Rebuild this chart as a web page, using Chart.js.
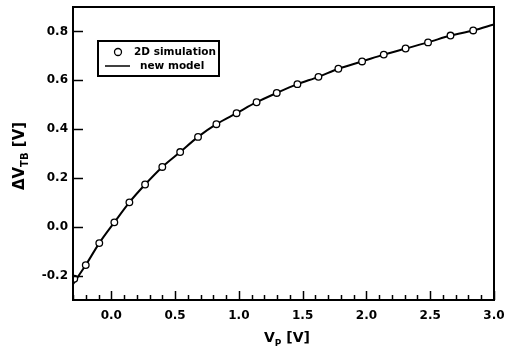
<!DOCTYPE html>
<html><head><meta charset="utf-8">
<script src="https://cdn.jsdelivr.net/npm/chart.js@4"></script>
<style>html,body{margin:0;padding:0;background:#fff}#wrap{width:511px;height:347px}</style>
</head><body><div id="wrap"><canvas id="c" width="511" height="347"></canvas></div>
<script>
// Data
const simX = [-0.29, -0.20, -0.094, 0.024, 0.142, 0.265, 0.40, 0.54, 0.68, 0.824, 0.982, 1.139, 1.297, 1.459, 1.624, 1.78, 1.966, 2.136, 2.307, 2.483, 2.659, 2.837];
const simY = [-0.213, -0.157, -0.067, 0.018, 0.100, 0.173, 0.245, 0.306, 0.368, 0.420, 0.465, 0.510, 0.548, 0.584, 0.614, 0.647, 0.677, 0.705, 0.730, 0.755, 0.783, 0.804];
const modelX = [-0.30, -0.20, -0.094, 0.024, 0.142, 0.265, 0.40, 0.54, 0.68, 0.824, 0.982, 1.139, 1.297, 1.459, 1.624, 1.78, 1.966, 2.136, 2.307, 2.483, 2.659, 2.837, 3.0];
const modelY = [-0.235, -0.157, -0.067, 0.018, 0.100, 0.173, 0.245, 0.306, 0.368, 0.420, 0.465, 0.510, 0.548, 0.584, 0.614, 0.647, 0.677, 0.705, 0.730, 0.755, 0.783, 0.804, 0.829];
const seriesNames = ['2D simulation', 'new model'];
const xTickLabels = ['0.0', '0.5', '1.0', '1.5', '2.0', '2.5', '3.0'];
const yTickLabels = ['-0.2', '0.0', '0.2', '0.4', '0.6', '0.8'];
const xMinorStep = 0.1;
const xTitle = ['V', 'P', ' [V]'];
const yTitle = ['\u0394V', 'TB', ' [V]'];

const FONT = '"DejaVu Sans", Verdana, sans-serif';

function fmt(v){ if (Math.abs(v) < 1e-9) v = 0; return v.toFixed(1); }

const decor = {
  id: 'decor',
  afterDraw(chart) {
    const ctx = chart.ctx, a = chart.chartArea;
    const xs = chart.scales.x, ys = chart.scales.y;
    ctx.save();
    ctx.strokeStyle = '#000';
    // frame
    ctx.lineWidth = 2;
    ctx.strokeRect(a.left, a.top, a.right - a.left, a.bottom - a.top);
    // x ticks (inward)
    ctx.lineWidth = 1.5;
    const majX = xTickLabels.map(Number);
    const n = Math.round((xs.max - xs.min) / xMinorStep);
    for (let i = 0; i <= n; i++) {
      const v = xs.min + i * xMinorStep;
      const isMaj = majX.some(m => Math.abs(m - v) < 1e-6);
      const px = Math.round(xs.getPixelForValue(v)) + 0.5;
      ctx.beginPath();
      ctx.moveTo(px, a.bottom);
      ctx.lineTo(px, a.bottom - (isMaj ? 9 : 5));
      ctx.stroke();
    }
    // y ticks (inward)
    yTickLabels.map(Number).forEach(v => {
      const py = Math.round(ys.getPixelForValue(v)) + 0.5;
      ctx.beginPath();
      ctx.moveTo(a.left - 1, py);
      ctx.lineTo(a.left + 10, py);
      ctx.stroke();
    });
    // titles
    ctx.fillStyle = '#000';
    ctx.textBaseline = 'alphabetic';
    function drawTitle(parts, cx, by, size, subSize) {
      const big = 'bold ' + size + 'px ' + FONT, small = 'bold ' + subSize + 'px ' + FONT;
      ctx.font = big; const w0 = ctx.measureText(parts[0]).width;
      ctx.font = small; const w1 = ctx.measureText(parts[1]).width;
      ctx.font = big; const w2 = ctx.measureText(parts[2]).width;
      let x = cx - (w0 + w1 + w2) / 2;
      ctx.textAlign = 'left';
      ctx.font = big; ctx.fillText(parts[0], x, by); x += w0;
      ctx.font = small; ctx.fillText(parts[1], x, by + 4); x += w1;
      ctx.font = big; ctx.fillText(parts[2], x, by);
    }
    drawTitle(xTitle, 287, 342, 14, 9);
    ctx.save();
    ctx.translate(24, 156);
    ctx.rotate(-Math.PI / 2);
    drawTitle(yTitle, 0, 0, 15, 10);
    ctx.restore();
    // legend
    ctx.lineWidth = 2;
    ctx.strokeRect(98, 41, 121, 35);
    ctx.lineWidth = 1.3;
    ctx.beginPath(); ctx.arc(118, 52, 3.5, 0, Math.PI * 2);
    ctx.fillStyle = '#fff'; ctx.fill(); ctx.stroke();
    ctx.lineWidth = 1.5;
    ctx.beginPath(); ctx.moveTo(105, 66); ctx.lineTo(130, 66); ctx.stroke();
    ctx.fillStyle = '#000';
    ctx.font = 'bold 10.5px ' + FONT;
    ctx.textBaseline = 'middle';
    ctx.textAlign = 'left';
    ctx.fillText(chart.data.datasets[0].label, 134, 52);
    ctx.fillText(chart.data.datasets[1].label, 140, 66);
    ctx.restore();
  }
};

new Chart(document.getElementById('c'), {
  type: 'scatter',
  data: {
    datasets: [
      {
        label: seriesNames[0],
        data: simX.map((x, i) => ({x, y: simY[i]})),
        showLine: false,
        pointRadius: 3.3,
        pointBorderWidth: 1.3,
        pointBackgroundColor: '#fff',
        pointBorderColor: '#000'
      },
      {
        label: seriesNames[1],
        data: modelX.map((x, i) => ({x, y: modelY[i]})),
        showLine: true,
        borderColor: '#000',
        borderWidth: 2,
        pointRadius: 0,
        cubicInterpolationMode: 'monotone'
      }
    ]
  },
  options: {
    responsive: false,
    animation: false,
    devicePixelRatio: 1,
    layout: { padding: { top: 7, right: 17, left: 0, bottom: 0 } },
    plugins: { legend: { display: false }, tooltip: { enabled: false } },
    scales: {
      x: {
        type: 'linear', min: -0.3, max: 3.0,
        afterBuildTicks: s => { s.ticks = xTickLabels.map(t => ({value: Number(t)})); },
        afterFit: s => { s.height = 47; s.paddingLeft = 0; s.paddingRight = 0; },
        grid: { display: false, drawTicks: false },
        border: { display: false },
        ticks: { autoSkip: false, maxRotation: 0, padding: 9, color: '#000',
          font: { family: FONT, size: 12, weight: 'bold' }, callback: v => fmt(v) }
      },
      y: {
        type: 'linear', min: -0.3, max: 0.9,
        afterBuildTicks: s => { s.ticks = yTickLabels.map(t => ({value: Number(t)})); },
        afterFit: s => { s.width = 73; s.paddingTop = 0; s.paddingBottom = 0; },
        grid: { display: false, drawTicks: false },
        border: { display: false },
        ticks: { autoSkip: false, padding: 5, color: '#000',
          font: { family: FONT, size: 12, weight: 'bold' }, callback: v => fmt(v) }
      }
    }
  },
  plugins: [decor]
});
</script></body></html>
